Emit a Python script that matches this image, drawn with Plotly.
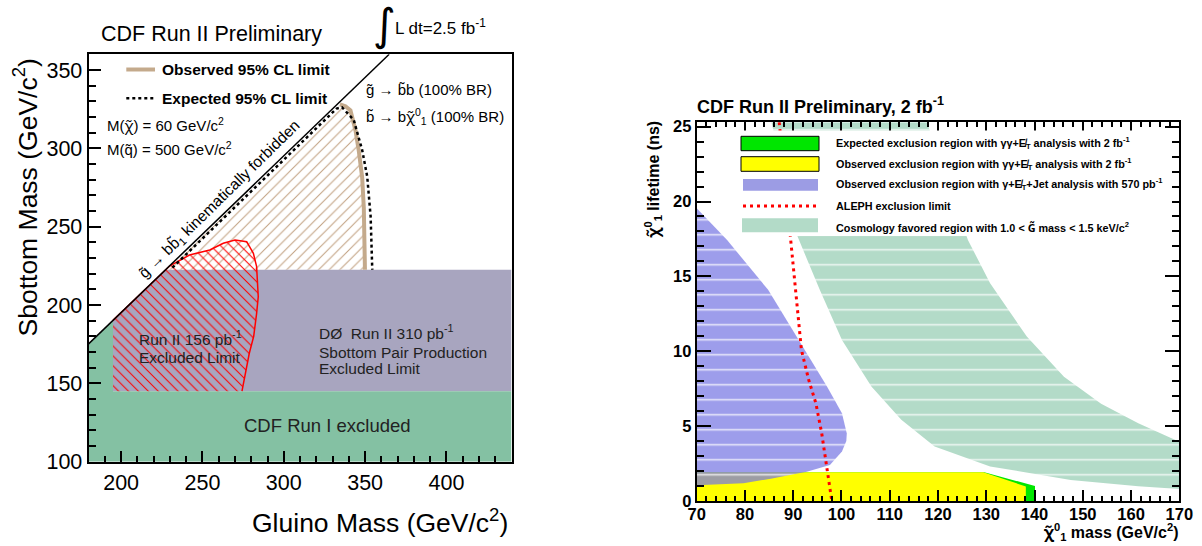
import plotly.graph_objects as go

W, H = 1202, 546


def px(x):
    return x / W


def py(y):
    return 1 - y / H


FONT = "Liberation Sans, Arial, Helvetica, sans-serif"
NOTO = "<span style='font-family:Noto Sans'>{}</span>"
CHI = NOTO.format("\u03c7\u0303")

# ---------------- Left panel data (gluino mass vs sbottom mass) ----------------
kin_x = [180, 364.8]
kin_y = [175.2, 360]

run1_x = [180, 440, 440, 195, 195, 180]
run1_y = [100, 100, 145, 145, 190.2, 175.2]

d0_x = [195, 440, 440, 227.5, 195]
d0_y = [145, 145, 222.5, 222.5, 190.2]

red_x = [195, 195, 230, 242, 254.5, 262.8, 270, 277.2, 281.3, 283.3, 284.3, 283.3, 281.5, 278.8, 276.8, 274.3]
red_y = [145, 190.2, 225.0, 231.9, 235.1, 239.4, 241.5, 240.4, 233.0, 224.5, 205.3, 194.7, 180, 169.2, 158.6, 145]

obs_x = [228.5, 334.5, 337.9, 341.0, 344.1, 346.1, 348.2, 349.2, 349.7, 349.9]
obs_y = [222.5, 328.0, 326.8, 324.2, 311.4, 298.5, 281.4, 262.1, 245.0, 222.5]

exp_x = [231.5, 332.5, 335.8, 343.0, 348.2, 351.3, 353.4, 354.4]
exp_y = [223.8, 325.4, 326.2, 318.1, 298.9, 281.9, 256.4, 222.5]

L_XRANGE = [180, 440]
L_YRANGE = [100, 360]
L_XMAJOR = [200, 250, 300, 350, 400]
L_YMAJOR = [100, 150, 200, 250, 300, 350]

# ---------------- Right panel data (neutralino mass vs lifetime) ----------------
gg_exp_x = [70, 70, 129.6, 140.1, 140.1]
gg_exp_y = [0, 1.92, 1.92, 1.0, 0]

gg_obs_x = [70, 70, 129.4, 138.2, 138.2]
gg_obs_y = [0, 1.92, 1.92, 0.97, 0]

gjet_x = [70, 76.3, 84.8, 92.4, 97.0, 100.1, 101.1, 101.0, 100.1, 97.6, 92.8, 85.9, 79.7, 70]
gjet_y = [19.55, 17.43, 14.1, 10.09, 7.64, 5.86, 4.5, 4.0, 3.3, 2.4, 1.96, 1.52, 1.18, 1.05]

aleph_x = [87.1, 89.4, 90.5, 91.7, 93.2, 94.7, 95.9, 97.0, 98.0]
aleph_y = [25.3, 17.66, 14.1, 10.09, 8.1, 6.52, 4.53, 2.08, 0.0]

cos_in_x = [85.5, 90.9, 95.5, 100.1, 106.2, 112.4, 119.3, 130.8, 147.5, 161.5, 170]
cos_in_y = [25.29, 17.66, 14.1, 10.76, 7.64, 5.42, 3.64, 2.31, 1.41, 0.98, 0.8]
cos_out_x = [117.7, 126.2, 130.8, 138.4, 146.1, 153.8, 161.5, 170]
cos_out_y = [25.29, 17.43, 14.54, 10.98, 8.3, 6.5, 5.2, 3.96]

R_XRANGE = [70, 170]
R_YRANGE = [0, 25.29]
R_XMAJOR = list(range(70, 171, 10))
R_YMAJOR = [0, 5, 10, 15, 20, 25]

# colours
C_RUN1 = "#84c1a3"
C_D0 = "#a8a5bf"
C_TAN = "#c4aa8c"
C_EXP_G = "#00e600"
C_BLUE = "rgba(120,120,228,0.72)"
C_COSMO = "#b3dbc8"

# frame geometry (pixels)
L_DOM_X = (88.6, 511.5)
L_DOM_Y = (461.7, 54.3)
R_DOM_X = (696.7, 1179.3)
R_DOM_Y = (501.0, 122.3)

fig = go.Figure()


def poly(x, y, xa, ya, color, pattern=None):
    kw = dict(x=x, y=y, xaxis=xa, yaxis=ya, mode="lines", fill="toself",
              fillcolor=color, line=dict(width=0), hoverinfo="skip", showlegend=False)
    if pattern:
        kw["fillpattern"] = pattern
    fig.add_trace(go.Scatter(**kw))


def line(x, y, xa, ya, **ln):
    fig.add_trace(go.Scatter(x=x, y=y, xaxis=xa, yaxis=ya, mode="lines", line=ln,
                             hoverinfo="skip", showlegend=False))


# left panel
poly(obs_x, obs_y, "x", "y", "rgba(0,0,0,0)",
     dict(shape="/", fgcolor="#c2a283", bgcolor="rgba(0,0,0,0)", size=7.5, solidity=0.14))
poly(d0_x, d0_y, "x", "y", C_D0)
poly(run1_x, run1_y, "x", "y", C_RUN1)
poly(red_x, red_y, "x", "y", "rgba(0,0,0,0)",
     dict(shape="\\", fgcolor="#ff0000", bgcolor="rgba(0,0,0,0)", size=7, solidity=0.15))
line(red_x[1:], red_y[1:], "x", "y", color="#ff0000", width=1.5)
line(obs_x[1:], obs_y[1:], "x", "y", color=C_TAN, width=4)
line(exp_x, exp_y, "x", "y", color="black", width=2.5, dash="3px,3px")
line(kin_x, kin_y, "x", "y", color="black", width=1.5)

# right panel
poly(gg_exp_x, gg_exp_y, "x2", "y2", C_EXP_G)
poly(gg_obs_x, gg_obs_y, "x2", "y2", "#ffff00")
poly(cos_in_x + cos_out_x[::-1], cos_in_y + cos_out_y[::-1], "x2", "y2", C_COSMO,
     dict(shape="-", fgcolor="white", bgcolor=C_COSMO, size=15, solidity=0.1, fgopacity=0.8))
poly(gjet_x, gjet_y, "x2", "y2", C_BLUE,
     dict(shape="-", fgcolor="white", bgcolor=C_BLUE, size=15, solidity=0.1, fgopacity=0.8))
line(aleph_x, aleph_y, "x2", "y2", color="#ff0000", width=3, dash="3px,4px")

# ---------------- axes (ROOT style: ticks inside, frame all round) ----------------
left_tick = dict(family=FONT, size=21.5, color="black")
right_tick = dict(family=FONT, size=16.5, color="black", weight="bold")


def axis(domain, rng, anchor, major, minor_dtick, tlen, mlen, mirror, font, **extra):
    d = dict(domain=domain, range=rng, anchor=anchor, tickmode="array", tickvals=major,
             ticks="inside", ticklen=tlen, tickwidth=2, tickcolor="black",
             minor=dict(ticks="inside", dtick=minor_dtick, tick0=major[0], ticklen=mlen,
                        tickwidth=1.5, tickcolor="black", showgrid=False),
             showline=True, linewidth=2, linecolor="black", mirror=mirror,
             layer="above traces", showgrid=False, zeroline=False, showticklabels=True,
             tickfont=font, automargin=False)
    d.update(extra)
    return d


fig.update_layout(
    width=W, height=H, autosize=False, template="none",
    margin=dict(l=0, r=0, t=0, b=0),
    paper_bgcolor="white", plot_bgcolor="white",
    font=dict(family=FONT, color="black"),
    showlegend=False,
    xaxis=axis([px(L_DOM_X[0]), px(L_DOM_X[1])], L_XRANGE, "y", L_XMAJOR, 10, 11, 6, True, left_tick),
    yaxis=axis([py(L_DOM_Y[0]), py(L_DOM_Y[1])], L_YRANGE, "x", L_YMAJOR, 10, 12, 7, True, left_tick),
    xaxis2=axis([px(R_DOM_X[0]), px(R_DOM_X[1])], R_XRANGE, "y2", R_XMAJOR, 2, 11, 5, "ticks",
                right_tick, ticklabelstandoff=-3),
    yaxis2=axis([py(R_DOM_Y[0]), py(R_DOM_Y[1])], R_YRANGE, "x2", R_YMAJOR, 1, 14, 7, "ticks", right_tick),
)

# ---------------- shapes (legend samples, legend box) ----------------
shapes = [
    dict(type="line", xref="paper", yref="paper", x0=px(126.3), x1=px(155), y0=py(69.5), y1=py(69.5),
         line=dict(color=C_TAN, width=4)),
    dict(type="line", xref="paper", yref="paper", x0=px(126.3), x1=px(155), y0=py(98.3), y1=py(98.3),
         line=dict(color="black", width=2.5, dash="3px,3px")),
    dict(type="rect", xref="paper", yref="paper", x0=px(728), x1=px(1172), y0=py(236), y1=py(130.5),
         fillcolor="white", line=dict(width=0), layer="above"),
    dict(type="rect", xref="paper", yref="paper", x0=px(741), x1=px(819), y0=py(150.7), y1=py(136.3),
         fillcolor=C_EXP_G, line=dict(color="black", width=1), layer="above"),
    dict(type="rect", xref="paper", yref="paper", x0=px(741), x1=px(819), y0=py(171.3), y1=py(156.7),
         fillcolor="#ffff00", line=dict(color="black", width=1), layer="above"),
    dict(type="rect", xref="paper", yref="paper", x0=px(743), x1=px(818), y0=py(190.7), y1=py(179),
         fillcolor="#9c9ce4", line=dict(width=0), layer="above"),
    dict(type="line", xref="paper", yref="paper", x0=px(743), x1=px(818), y0=py(206), y1=py(206),
         line=dict(color="#ff0000", width=3, dash="3px,4px"), layer="above"),
    dict(type="rect", xref="paper", yref="paper", x0=px(742), x1=px(818), y0=py(232.3), y1=py(218.3),
         fillcolor=C_COSMO, line=dict(width=0), layer="above"),
]
fig.update_layout(shapes=shapes)

# ---------------- annotations ----------------
ann = []


def text(t, x, y, size, xanchor="left", yanchor="middle", bold=False, angle=0, color="black",
         family=FONT, xref="paper", yref="paper"):
    ann.append(dict(text=t, x=x, y=y, xref=xref, yref=yref, xanchor=xanchor, yanchor=yanchor,
                    showarrow=False, textangle=angle,
                    font=dict(family=family, size=size, color=color, weight="bold" if bold else "normal")))


# left panel texts
text("CDF Run II Preliminary", px(99), py(33.5), 21.5)
text("\u222b", px(384), py(25), 44, xanchor="center", family="DejaVu Sans, Liberation Sans")
text("L dt=2.5 fb<sup>-1</sup>", px(393), py(27), 17)
text("Observed 95% CL limit", px(160), py(69.5), 15.5, bold=True)
text("Expected 95% CL limit", px(160), py(98), 15.5, bold=True)
text("g\u0303 \u2192 b\u0303b (100% BR)", px(364), py(90), 15)
text("b\u0303 \u2192 b" + CHI + "<sup>0</sup><sub>1</sub> (100% BR)", px(364), py(116), 15)
text("M(" + CHI + ") = 60 GeV/c<sup>2</sup>", px(105), py(125.5), 15)
text("M(q\u0303) = 500 GeV/c<sup>2</sup>", px(105), py(148.5), 15)
text("g\u0303 \u2192 bb\u0303<sub>1</sub> kinematically forbidden", 260.7, 267.1, 15.5,
     xanchor="center", angle=-44.4, xref="x", yref="y")
text("Run II 156 pb<sup>-1</sup>", px(136.5), py(338), 15.5, color="#222222")
text("Excluded Limit", px(136.5), py(357), 15.5, color="#222222")
text("D\u00d8  Run II 310 pb<sup>-1</sup>", px(316.5), py(331.5), 15.5, color="#222222")
text("Sbottom Pair Production", px(316.5), py(352.7), 15.5, color="#222222")
text("Excluded Limit", px(316.5), py(368.3), 15.5, color="#222222")
text("CDF Run I excluded", px(327.2), py(425), 18.5, xanchor="center", color="#222222")
text("Sbottom Mass (GeV/c<sup>2</sup>)", px(25), py(197.5), 26.5, xanchor="center", angle=-90)
text("Gluino Mass (GeV/c<sup>2</sup>)", px(510), py(521), 26.5, xanchor="right")

# right panel texts
text("CDF Run II Preliminary, 2 fb<sup>-1</sup>", px(694.5), py(106), 18, bold=True)
text(CHI + "<sup>0</sup><sub>1</sub> lifetime (ns)", px(652), py(119), 16, xanchor="center",
     yanchor="top", angle=-90, bold=True)
text(CHI + "<sup>0</sup><sub>1</sub> mass (GeV/c<sup>2</sup>)", px(1180), py(532), 16,
     xanchor="right", bold=True)

leg_rows = [
    ("Expected exclusion region with \u03b3\u03b3+E\u0338<sub>T</sub> analysis with 2 fb<sup>-1</sup>", 143.3),
    ("Observed exclusion region with \u03b3\u03b3+E\u0338<sub>T</sub> analysis with 2 fb<sup>-1</sup>", 163.5),
    ("Observed exclusion region with \u03b3+E\u0338<sub>T</sub>+Jet analysis with 570 pb<sup>-1</sup>", 184.3),
    ("ALEPH exclusion limit", 206.3),
    ("Cosmology favored region with 1.0 &lt; " + NOTO.format("G\u0303") + " mass &lt; 1.5 keV/c<sup>2</sup>", 227.3),
]
for t, yy in leg_rows:
    text(t, px(834), py(yy), 10.8, bold=True)

fig.update_layout(annotations=ann)

fig.write_html(
    "out.html",
    config={"displayModeBar": False},
    post_script="document.body.style.margin='0px';document.documentElement.style.overflow='hidden';",
)
